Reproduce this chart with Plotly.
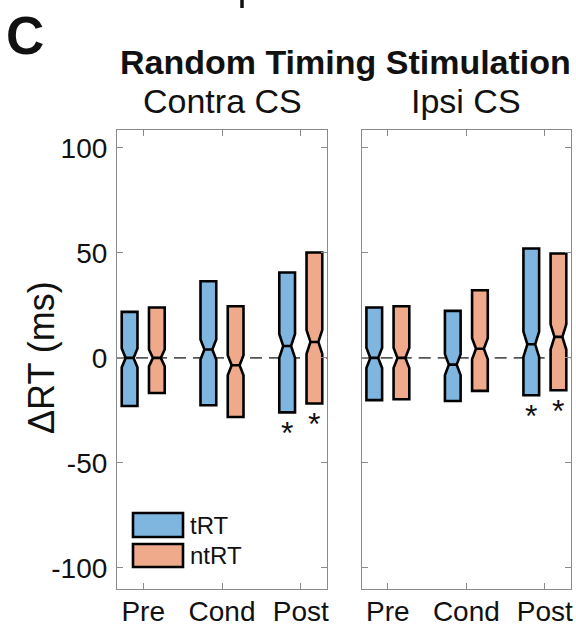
import plotly.graph_objects as go

# ---------------- data ----------------
categories = ["Pre", "Cond", "Post"]
groups = ["tRT", "ntRT"]
panels = ["Contra CS", "Ipsi CS"]

# Contra CS
contra_tRT_q1 = [-22.9, -22.5, -25.9]
contra_tRT_med = [0.0, 4.0, 5.7]
contra_tRT_q3 = [21.9, 36.5, 40.7]
contra_tRT_notch = [4.5, 4.8, 5.7]
contra_ntRT_q1 = [-16.7, -28.1, -21.7]
contra_ntRT_med = [0.0, -3.5, 7.6]
contra_ntRT_q3 = [24.0, 24.6, 50.2]
contra_ntRT_notch = [4.0, 4.8, 5.7]

# Ipsi CS
ipsi_tRT_q1 = [-20.1, -20.5, -17.8]
ipsi_tRT_med = [0.0, -3.2, 6.5]
ipsi_tRT_q3 = [24.0, 22.4, 52.1]
ipsi_tRT_notch = [4.8, 5.0, 6.0]
ipsi_ntRT_q1 = [-19.7, -15.7, -15.4]
ipsi_ntRT_med = [0.0, 4.4, 10.0]
ipsi_ntRT_q3 = [24.6, 32.2, 49.7]
ipsi_ntRT_notch = [4.8, 5.0, 6.0]

# significance flags (asterisk under box)
contra_tRT_sig = [False, False, True]
contra_ntRT_sig = [False, False, True]
ipsi_tRT_sig = [False, False, True]
ipsi_ntRT_sig = [False, False, True]

y_ticks = [-100, -50, 0, 50, 100]
y_ticklabels = ["-100", "-50", "0", "50", "100"]

# ---------------- style ----------------
W, H = 576, 626
FONT = "Arial, Liberation Sans, Helvetica, sans-serif"
BLUE = "#7EB6E0"
ORANGE = "#EEAA8B"
AXCOL = "#8a8a8a"
TXT = "#111111"
colors = {"tRT": BLUE, "ntRT": ORANGE}
offsets = {"tRT": -0.173, "ntRT": 0.173}
BOXW = 0.2


def px_x(p):
    return p / W


def px_y(p):
    return 1 - p / H


data = {
    ("Contra CS", "tRT"): (contra_tRT_q1, contra_tRT_med, contra_tRT_q3, contra_tRT_notch, contra_tRT_sig),
    ("Contra CS", "ntRT"): (contra_ntRT_q1, contra_ntRT_med, contra_ntRT_q3, contra_ntRT_notch, contra_ntRT_sig),
    ("Ipsi CS", "tRT"): (ipsi_tRT_q1, ipsi_tRT_med, ipsi_tRT_q3, ipsi_tRT_notch, ipsi_tRT_sig),
    ("Ipsi CS", "ntRT"): (ipsi_ntRT_q1, ipsi_ntRT_med, ipsi_ntRT_q3, ipsi_ntRT_notch, ipsi_ntRT_sig),
}

fig = go.Figure()
annotations = []
shapes = []
axis_ids = {"Contra CS": ("x", "y"), "Ipsi CS": ("x2", "y2")}

for panel in panels:
    xa, ya = axis_ids[panel]
    for g in groups:
        q1, med, q3, notch, sig = data[(panel, g)]
        pos = [i + 1 + offsets[g] for i in range(len(categories))]
        fig.add_trace(go.Box(
            x=pos, q1=q1, median=med, q3=q3,
            lowerfence=q1, upperfence=q3, notchspan=notch,
            notched=True, notchwidth=0.25, whiskerwidth=0,
            width=BOXW, boxpoints=False,
            fillcolor=colors[g],
            line=dict(color="black", width=2.6),
            xaxis=xa, yaxis=ya, showlegend=False, hoverinfo="skip",
        ))
        for p, lo, s in zip(pos, q1, sig):
            if s:
                annotations.append(dict(
                    x=p, y=lo - 8, xref=xa, yref=ya, text="*", showarrow=False,
                    font=dict(family=FONT, size=32, color=TXT),
                    xanchor="center", yanchor="middle", yshift=-4,
                ))
    # dashed zero line
    shapes.append(dict(
        type="line", xref=f"{xa} domain", yref=ya, x0=0, x1=1, y0=0, y1=0,
        line=dict(color="#555555", width=1.6, dash="12px,7px"), layer="below",
    ))

axis_common = dict(
    showline=True, linecolor=AXCOL, linewidth=1.2, mirror="ticks",
    ticks="inside", ticklen=6, tickcolor=AXCOL, tickwidth=1.2,
    showgrid=False, zeroline=False, automargin=False,
)

fig.update_layout(
    width=W, height=H,
    margin=dict(l=0, r=0, t=0, b=0),
    paper_bgcolor="white", plot_bgcolor="white",
    showlegend=False,
    xaxis=dict(domain=[px_x(117), px_x(327)], anchor="y", range=[0.667, 3.333],
               tickvals=[1, 2, 3], ticktext=categories, ticklabelstandoff=-3,
               tickfont=dict(family=FONT, size=28, color=TXT), **axis_common),
    yaxis=dict(domain=[px_y(589), px_y(130)], anchor="x", range=[-110, 108.5],
               tickvals=y_ticks, ticktext=y_ticklabels, ticklabelstandoff=3,
               tickfont=dict(family=FONT, size=28, color=TXT), **axis_common),
    xaxis2=dict(domain=[px_x(361.7), px_x(571)], anchor="y2", range=[0.667, 3.333],
                tickvals=[1, 2, 3], ticktext=categories, ticklabelstandoff=-3,
                tickfont=dict(family=FONT, size=28, color=TXT), **axis_common),
    yaxis2=dict(domain=[px_y(589), px_y(130)], anchor="x2", range=[-110, 108.5],
                tickvals=y_ticks, showticklabels=False, **axis_common),
)

# texts
annotations += [
    dict(text="<b>C</b>", x=px_x(4), y=px_y(35), xref="paper", yref="paper",
         xanchor="left", yanchor="middle", showarrow=False,
         font=dict(family=FONT, size=53, color=TXT)),
    dict(text="<b>Random Timing Stimulation</b>", x=px_x(345), y=px_y(62), xref="paper", yref="paper",
         xanchor="center", yanchor="middle", showarrow=False,
         font=dict(family=FONT, size=34, color=TXT)),
    dict(text=panels[0], x=px_x(222), y=px_y(101), xref="paper", yref="paper",
         xanchor="center", yanchor="middle", showarrow=False,
         font=dict(family=FONT, size=34, color=TXT)),
    dict(text=panels[1], x=px_x(466), y=px_y(101), xref="paper", yref="paper",
         xanchor="center", yanchor="middle", showarrow=False,
         font=dict(family=FONT, size=34, color=TXT)),
    dict(text="ΔRT (ms)", x=px_x(41), y=px_y(358), xref="paper", yref="paper",
         xanchor="center", yanchor="middle", showarrow=False, textangle=-90,
         font=dict(family=FONT, size=36, color=TXT)),
]

# legend (drawn manually, inside left panel)
leg_rows = [(groups[0], 513, 537), (groups[1], 544, 567)]
for name, y0, y1 in leg_rows:
    shapes.append(dict(type="rect", xref="paper", yref="paper",
                       x0=px_x(133), x1=px_x(183), y0=px_y(y1), y1=px_y(y0),
                       fillcolor=colors[name], line=dict(color="black", width=2.6)))
    annotations.append(dict(text=name, x=px_x(188), y=px_y((y0 + y1) / 2), xref="paper", yref="paper",
                            xanchor="left", yanchor="middle", showarrow=False,
                            font=dict(family=FONT, size=24, color=TXT)))

# fragment of the panel above (descender visible at top edge)
shapes.append(dict(type="line", xref="paper", yref="paper",
                   x0=px_x(242), x1=px_x(242), y0=px_y(8), y1=1,
                   line=dict(color=TXT, width=3.5)))

fig.update_layout(annotations=annotations, shapes=shapes)
fig.write_html("out.html",
               config={"displayModeBar": False},
               post_script="document.body.style.margin='0';document.body.style.overflow='hidden';")
